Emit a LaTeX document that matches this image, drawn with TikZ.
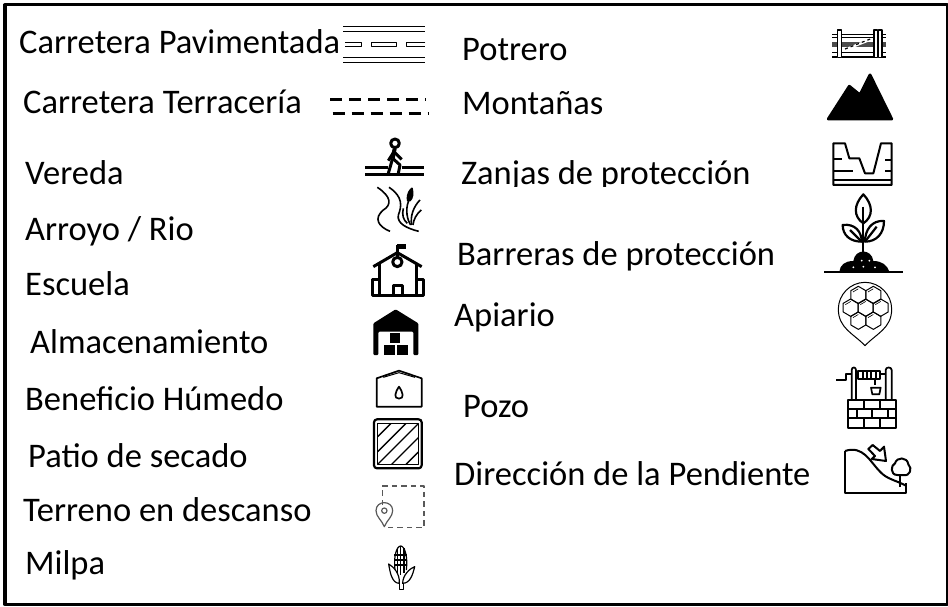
\documentclass[tikz,border=0pt]{standalone}
\usepackage{fontspec}
\setmainfont{Carlito}
\tikzset{
  lbl/.style={anchor=base west, inner sep=0pt, font=\fontsize{34.5}{40}\selectfont},
  iconA/.style={shift={(320,10)}, scale=1/3},
  iconB/.style={shift={(350,300)}, scale=1/3},
  iconC/.style={shift={(810,15)}, scale=1/3},
  iconD/.style={shift={(820,275)}, scale=1/3},
  hexcell/.pic={\draw (0,-8.7) -- (7.5,-4.3) -- (7.5,4.3) -- (0,8.7) -- (-7.5,4.3) -- (-7.5,-4.3) -- cycle;
                \draw[line width=0.6pt] (-5.4,-3) -- (0,-6.2);}
}
\begin{document}
\begin{tikzpicture}[x=1pt, y=-1pt, line join=round]
    \useasboundingbox (0,0) rectangle (948,607);
    \draw[line width=3.2pt] (4.9,4.9) rectangle (947.6,604.2);

    % left column
    \node[lbl] (pavimentada) at (19,54) {Carretera Pavimentada};
    \node[lbl] (terraceria) at (23,114) {Carretera Terracería};
    \node[lbl] (vereda) at (25,185) {Vereda};
    \node[lbl] (arroyo) at (25,240) {Arroyo / Rio};
    \node[lbl] (escuela) at (25,295) {Escuela};
    \node[lbl] (almacen) at (30,353) {Almacenamiento};
    \node[lbl] (beneficio) at (25,410) {Beneficio Húmedo};
    \node[lbl] (patio) at (28,467) {Patio de secado};
    \node[lbl] (descanso) at (23,521) {Terreno en descanso};
    \node[lbl] (milpa) at (25,574) {Milpa};

    % right column
    \node[lbl] (potrero) at (462,61) {Potrero};
    \node[lbl] (montanas) at (462,115) {Montañas};
    \node[lbl] (zanjas) at (461,185) {Zanjas de protección};
    \fill[white] (455,187) rectangle (760,197);
    \node[lbl] (barreras) at (457,265) {Barreras de protección};
    \node[lbl] (apiario) at (454,326) {Apiario};
    \node[lbl] (pozo) at (463,417) {Pozo};
    \node[lbl] (pendiente) at (454,485) {Dirección de la Pendiente};

    % paved road
    \begin{scope}[iconA, line width=1pt]
        \draw (70,50) -- (316,50);
        \draw (70,65) -- (316,65);
        \draw (70,143) -- (316,143);
        \draw (70,157) -- (316,157);
        \draw[line width=0.7pt] (75,98) -- (125,98) -- (125,109) -- (75,109);
        \draw[line width=0.7pt] (155,98) rectangle (230,109);
        \draw[line width=0.7pt] (316,98) -- (260,98) -- (260,109) -- (316,109);
    \end{scope}

    % dirt road
    \begin{scope}[iconA, line width=3pt]
        \draw[dash pattern=on 12pt off 7pt] (30,268) -- (318,268);
        \draw[dash pattern=on 12pt off 7pt] (38,310) -- (326,310);
    \end{scope}

    % walker on path
    \begin{scope}[iconA, line width=3pt]
        \draw (225,400) circle (13);
        \draw[line width=4pt] (224,416) -- (218,445);
        \draw (218,445) -- (205,490);
        \draw (218,445) -- (240,465) -- (235,490);
        \draw (222,425) -- (245,448);
        \draw (222,425) -- (205,452);
        \draw (135,473) -- (205,473);
        \draw (245,473) -- (312,473);
        \draw[line width=3.6pt] (135,493) -- (312,493);
    \end{scope}

    % stream and reeds
    \begin{scope}[iconA, line width=1.6pt]
        \draw (172,532) .. controls (215,560) and (215,585) .. (190,600) .. controls (160,625) and (175,650) .. (210,664);
        \draw (207,532) .. controls (250,560) and (245,590) .. (235,615) .. controls (230,640) and (260,655) .. (296,664);
        \draw[fill=black] (263,572) .. controls (260,550) and (270,540) .. (276,535) .. controls (280,550) and (278,565) .. (270,572) -- cycle;
        \draw (266,572) .. controls (255,600) and (262,630) .. (272,645);
        \draw (300,570) .. controls (280,590) and (270,620) .. (275,645);
        \draw (304,600) .. controls (290,610) and (280,630) .. (279,645);
        \draw (250,595) .. controls (245,615) and (250,630) .. (262,640);
    \end{scope}

    % school
    \begin{scope}[iconA, line width=3pt]
        \draw (232,745) -- (232,705);
        \fill (232,703) rectangle (258,716);
        \draw (160,770) -- (232,728) -- (305,770);
        \draw (178,762) -- (178,858);
        \draw (288,762) -- (288,858);
        \draw (232,756) circle (14);
        \draw (178,810) -- (157,810) -- (157,858) -- (310,858) -- (310,810) -- (288,810);
        \draw (220,858) -- (220,828) -- (248,828) -- (248,858);
    \end{scope}

    % warehouse
    \begin{scope}[iconB]
        \fill[rounded corners=1pt] (70,70) -- (137,28) -- (205,70) -- (205,165) -- (190,165) -- (190,95) -- (85,95) -- (85,165) -- (70,165) -- cycle;
        \fill (120,100) rectangle (150,130);
        \fill (102,135) rectangle (135,165);
        \fill (140,135) rectangle (175,165);
    \end{scope}

    % wet mill
    \begin{scope}[iconB, line width=1.7pt]
        \draw (80,235) -- (147,212) -- (215,235) -- (215,320) -- (80,320) -- cycle;
        \draw[line width=1pt] (100,232) -- (147,218) -- (195,232);
        \draw (147,260) .. controls (135,278) and (130,295) .. (147,296) .. controls (164,295) and (159,278) .. (147,260) -- cycle;
    \end{scope}

    % drying yard
    \begin{scope}[iconB]
        \draw[line width=2.2pt, rounded corners=3pt] (72,358) rectangle (215,505);
        \draw[line width=1.4pt] (83,370) rectangle (205,493);
        \clip (83,370) rectangle (205,493);
        \draw[line width=1.4pt] (83,410) -- (123,370);
        \draw[line width=1.4pt] (83,455) -- (168,370);
        \draw[line width=1.4pt] (83,493) -- (205,371);
        \draw[line width=1.4pt] (125,493) -- (205,413);
        \draw[line width=1.4pt] (168,493) -- (205,456);
    \end{scope}

    % fallow plot
    \begin{scope}[iconB, draw=black!65, line width=1.2pt]
        \draw[dash pattern=on 5.5pt off 4pt] (97,615) -- (97,558) -- (222,558) -- (222,682) -- (115,682);
        \draw (103,680) .. controls (95,660) and (78,650) .. (78,632) .. controls (78,600) and (128,600) .. (128,632) .. controls (128,650) and (111,660) .. (103,680) -- cycle;
        \draw (103,632) circle (8);
    \end{scope}

    % corn
    \begin{scope}[iconB, line width=1.2pt]
        \draw (135,810) .. controls (130,770) and (140,738) .. (152,738) .. controls (164,738) and (174,770) .. (169,810);
        \draw (132,765) -- (172,765);
        \draw (132,780) -- (172,780);
        \draw (134,795) -- (170,795);
        \draw (142,745) -- (142,820);
        \draw (152,738) -- (152,825);
        \draw (162,745) -- (162,820);
        \draw[fill=white] (116,792) .. controls (130,800) and (150,820) .. (148,850) .. controls (125,850) and (120,815) .. (116,792) -- cycle;
        \draw[fill=white] (194,800) .. controls (180,805) and (158,825) .. (158,850) .. controls (180,850) and (188,825) .. (194,800) -- cycle;
        \draw (148,850) -- (148,868) -- (160,868) -- (160,850);
    \end{scope}

    % fence
    \begin{scope}[iconC, line width=1.2pt]
        \draw (67,58) -- (228,58);
        \draw (67,68) -- (228,68);
        \fill[black!70] (67,80) rectangle (228,95);
        \draw[line width=1.6pt] (67,112) -- (228,112);
        \draw[line width=1.6pt] (67,126) -- (228,126);
        \draw[fill=white] (82,45) rectangle (95,128);
        \draw[fill=white] (192,45) rectangle (203,128);
        \draw[fill=white] (205,45) rectangle (216,128);
        \draw[white, line width=2.4pt] (105,104) -- (186,72);
        \draw[dashed] (105,102) -- (186,70);
    \end{scope}

    % mountains
    \begin{scope}[iconC]
        \draw[fill=black, line width=3pt] (55,312) -- (118,214) -- (150,240) -- (180,180) -- (245,312) -- cycle;
    \end{scope}

    % trench
    \begin{scope}[iconC, line width=2pt]
        \draw (70,510) -- (70,385) -- (105,385) -- (118,430) -- (148,430) -- (165,475) -- (190,475) -- (213,385) -- (245,385) -- (245,510) -- cycle;
        \draw (70,432) -- (95,432);
        \draw (70,468) -- (130,468);
        \draw (225,435) -- (245,435);
        \draw (225,468) -- (245,468);
        \draw (70,495) -- (245,495);
    \end{scope}

    % seedling
    \begin{scope}[iconC, line width=2.2pt]
        \draw (42,770) -- (280,770);
        \fill (88,770) .. controls (90,750) and (105,738) .. (130,738) .. controls (135,700) and (185,700) .. (190,738) .. controls (215,738) and (232,750) .. (238,770) -- cycle;
        \fill[white] (130,757) circle (3);
        \fill[white] (155,737) circle (3);
        \fill[white] (178,737) circle (3);
        \fill[white] (160,755) circle (3);
        \fill[white] (195,757) circle (3);
        \draw (160,575) -- (160,710);
        \draw (160,538) .. controls (130,570) and (130,605) .. (160,625) .. controls (190,605) and (190,570) .. (160,538) -- cycle;
        \draw (98,630) .. controls (135,625) and (155,650) .. (155,680) .. controls (120,680) and (98,660) .. (98,630) -- cycle;
        \draw (222,618) .. controls (185,615) and (165,645) .. (165,680) .. controls (200,680) and (222,655) .. (222,618) -- cycle;
        \draw (120,645) -- (155,680);
        \draw (200,635) -- (165,680);
    \end{scope}

    % hive pin
    \begin{scope}[iconD, line width=1pt]
        \draw (135,212) .. controls (100,175) and (55,160) .. (55,102) .. controls (55,60) and (90,22) .. (135,22) .. controls (180,22) and (215,60) .. (215,102) .. controls (215,160) and (170,175) .. (135,212) -- cycle;
        \pic at (115,60) {hexcell};
        \pic at (160,60) {hexcell};
        \pic at (92,98) {hexcell};
        \pic at (137,98) {hexcell};
        \pic at (182,98) {hexcell};
        \pic at (115,137) {hexcell};
        \pic at (160,137) {hexcell};
    \end{scope}

    % well
    \begin{scope}[iconD, line width=1.7pt]
        \draw (48,315) -- (78,315) -- (78,298) -- (95,298);
        \draw (95,375) -- (95,285) .. controls (95,275) and (108,275) .. (108,285) -- (108,375);
        \draw (197,375) -- (197,285) .. controls (197,275) and (215,275) .. (215,285) -- (215,375);
        \draw (115,288) rectangle (180,312);
        \draw (128,288) -- (128,312);
        \draw (141,288) -- (141,312);
        \draw (154,288) -- (154,312);
        \draw (167,288) -- (167,312);
        \draw (180,298) -- (197,298);
        \draw (108,298) -- (115,298);
        \draw (165,312) -- (165,330);
        \draw (153,338) -- (182,338) -- (178,358) -- (157,358) -- cycle;
        \draw[line width=2pt] (85,375) rectangle (228,458);
        \draw[line width=2pt] (85,403) -- (228,403);
        \draw[line width=2pt] (85,430) -- (228,430);
        \draw (132,375) -- (132,403);
        \draw (180,375) -- (180,403);
        \draw (110,403) -- (110,430);
        \draw (157,403) -- (157,430);
        \draw (205,403) -- (205,430);
        \draw (132,430) -- (132,458);
        \draw (180,430) -- (180,458);
    \end{scope}

    % slope
    \begin{scope}[iconD, line width=2pt]
        \draw (75,528) -- (75,655) -- (258,655) -- (258,625);
        \draw (75,528) .. controls (130,510) and (150,560) .. (180,590) .. controls (200,612) and (225,615) .. (258,632);
        \draw (158,510) -- (145,522) -- (165,543) -- (155,552) -- (198,558) -- (192,515) -- (180,528) -- cycle;
        \draw (240,635) -- (240,600);
        \draw[fill=white] (232,600) .. controls (210,600) and (212,570) .. (225,565) .. controls (230,545) and (262,545) .. (265,568) .. controls (278,580) and (270,605) .. (250,600) -- cycle;
    \end{scope}
\end{tikzpicture}
\end{document}
